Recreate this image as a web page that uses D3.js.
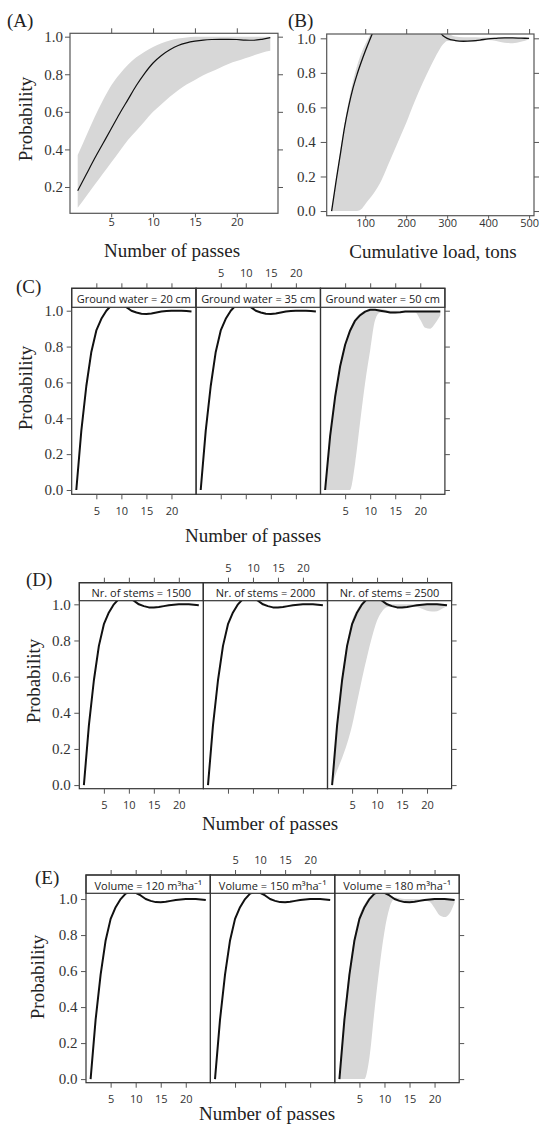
<!DOCTYPE html>
<html>
<head>
<meta charset="utf-8">
<script src="https://cdn.jsdelivr.net/npm/d3@7"></script>
<style>
body { margin: 0; background: #fff; }
</style>
</head>
<body>
<div id="chart"></div>
<script>
// ---- data ----
var passes = [1,2,3,4,5,6,7,8,9,10,11,12,13,14,15,16,17,18,19,20,21,22,23,24];

// (A) probability vs number of passes
var aFit  = [0.18,0.265,0.35,0.43,0.51,0.59,0.665,0.74,0.805,0.86,0.9,0.93,0.953,0.967,0.976,0.982,0.985,0.986,0.986,0.985,0.982,0.981,0.986,0.995];
var aLow  = [0.09,0.15,0.21,0.27,0.33,0.39,0.45,0.5,0.55,0.6,0.64,0.68,0.715,0.745,0.77,0.795,0.815,0.835,0.855,0.87,0.885,0.9,0.915,0.925];
var aHigh = [0.37,0.47,0.57,0.66,0.74,0.8,0.85,0.89,0.92,0.945,0.965,0.98,0.99,0.995,1,1,1,1,1,1,1,1,1,1];

// (B) probability vs cumulative load
var loads = [18,30,40,50,60,70,80,90,100,110,120,140,160,180,200,220,240,260,280,290,300,320,340,360,380,400,420,440,460,480,500];
var bFit  = [0,0.19,0.34,0.49,0.61,0.71,0.79,0.86,0.925,0.985,1.04,1.09,1.1,1.1,1.1,1.1,1.09,1.07,1.04,1.015,1.0,0.987,0.983,0.985,0.99,0.997,1.0,1.002,1.002,1.001,1.0];
var bLow  = [0,0,0,0,0,0,0,0.01,0.04,0.07,0.1,0.18,0.29,0.4,0.51,0.63,0.74,0.84,0.93,0.965,0.985,0.983,0.978,0.978,0.985,0.99,0.985,0.975,0.972,0.98,0.995];
var bHigh = [0.005,0.2,0.36,0.51,0.64,0.75,0.84,0.91,0.965,1.01,1.05,1.1,1.1,1.1,1.1,1.1,1.1,1.1,1.1,1.08,1.04,1.01,1.006,1.006,1.005,1.005,1.005,1.005,1.005,1.003,1.0];

// (C)-(E) conditional curves
var fitMain = [0,0.33,0.58,0.77,0.89,0.955,1.0,1.03,1.04,1.035,1.02,1.0,0.99,0.983,0.982,0.985,0.99,0.995,0.998,1.0,1.0,1.0,0.998,0.995];
var fitC3   = [0,0.3,0.52,0.69,0.81,0.89,0.945,0.975,0.995,1.005,1.005,1.0,0.995,0.99,0.99,0.992,0.995,0.995,0.995,0.995,0.995,0.995,0.995,0.995];
var lowC3   = [0,0,0,0,0,0,0.15,0.38,0.6,0.78,0.95,0.99,0.99,0.985,0.985,0.988,0.99,0.99,0.99,0.95,0.905,0.9,0.93,0.975];
var highC3  = [0.01,0.31,0.53,0.7,0.82,0.9,0.955,0.985,1.0,1.01,1.01,1.01,1.005,1,1,1,1,1,1,1,1,1,1,1];
var lowD3   = [0,0.08,0.15,0.23,0.33,0.46,0.59,0.71,0.82,0.91,0.96,0.985,0.985,0.98,0.98,0.985,0.99,0.985,0.975,0.965,0.96,0.962,0.975,0.99];
var highD3  = [0.02,0.36,0.61,0.79,0.91,0.97,1.01,1.03,1.04,1.035,1.02,1.005,1,1,1,1,1,1,1,1.005,1.005,1.005,1.002,1];
var lowE3   = [0,0,0,0,0,0,0.12,0.38,0.62,0.82,0.95,1.0,0.99,0.985,0.985,0.988,0.99,0.99,0.985,0.95,0.91,0.9,0.92,0.98];
var highE3  = [0.02,0.36,0.61,0.79,0.91,0.97,1.01,1.03,1.04,1.035,1.02,1.01,1.005,1,1,1,1,1,1,1.005,1.005,1.005,1.002,1];

var groundWater = ["Ground water = 20 cm", "Ground water = 35 cm", "Ground water = 50 cm"];
var stems = ["Nr. of stems = 1500", "Nr. of stems = 2000", "Nr. of stems = 2500"];
var volumes = ["Volume = 120 m\u00B3ha\u207B\u00B9", "Volume = 150 m\u00B3ha\u207B\u00B9", "Volume = 180 m\u00B3ha\u207B\u00B9"];

var passTicks = [5, 10, 15, 20];
var loadTicks = [100, 200, 300, 400, 500];
var probTicksA = [0.2, 0.4, 0.6, 0.8, 1.0];
var probTicks = [0, 0.2, 0.4, 0.6, 0.8, 1.0];

// ---- drawing ----
var serif = "'Liberation Serif','Times New Roman',serif";
var sans = "'Open Sans','Liberation Sans',Arial,sans-serif";

var svg = d3.select("#chart").append("svg")
    .attr("width", 550)
    .attr("height", 1133)
    .style("background", "#fff");

var clipCount = 0;
function addClip(x, y, w, h) {
  var id = "clip" + (clipCount++);
  svg.append("clipPath").attr("id", id)
     .append("rect").attr("x", x).attr("y", y).attr("width", w).attr("height", h);
  return "url(#" + id + ")";
}

function styleAxis(g, fontSize, family) {
  g.select(".domain").remove();
  g.selectAll(".tick line").attr("stroke", "#555");
  g.selectAll(".tick text")
    .attr("fill", "#333")
    .style("font-family", family)
    .style("font-size", fontSize + "px");
}

function drawCurves(x, y, xs, fit, low, high, lw, clip, lineCurve) {
  var layer = svg.append("g").attr("clip-path", clip);
  if (low) {
    var area = d3.area()
        .x(function(d, i) { return x(xs[i]); })
        .y0(function(d, i) { return y(low[i]); })
        .y1(function(d, i) { return y(high[i]); })
        .curve(d3.curveMonotoneX);
    layer.append("path").datum(low).attr("d", area).attr("fill", "#d7d7d7");
  }
  var line = d3.line()
      .x(function(d, i) { return x(xs[i]); })
      .y(function(d) { return y(d); })
      .curve(lineCurve || d3.curveMonotoneX);
  layer.append("path").datum(fit).attr("d", line)
      .attr("fill", "none").attr("stroke", "#111").attr("stroke-width", lw)
      .attr("stroke-linejoin", "round");
}

function label(txt, x, y, size, anchor, rotate) {
  var t = svg.append("text").text(txt)
      .attr("x", x).attr("y", y)
      .attr("text-anchor", anchor || "start")
      .style("font-family", serif)
      .style("font-size", size + "px")
      .attr("fill", "#222");
  if (rotate) t.attr("transform", "rotate(-90," + x + "," + y + ")");
  return t;
}

// single panel (A, B)
function singlePanel(c) {
  var x = d3.scaleLinear().domain(c.xDomain).range([c.left, c.right]);
  var y = d3.scaleLinear().domain(c.yDomain).range([c.bottom, c.top]);
  var clip = addClip(c.left, c.top, c.right - c.left, c.bottom - c.top);

  drawCurves(x, y, c.xs, c.fit, c.low, c.high, c.lw, clip);

  svg.append("rect").attr("x", c.left).attr("y", c.top)
     .attr("width", c.right - c.left).attr("height", c.bottom - c.top)
     .attr("fill", "none").attr("stroke", "#555").attr("stroke-width", 1.2);

  var gb = svg.append("g").attr("transform", "translate(0," + c.bottom + ")")
     .call(d3.axisBottom(x).tickValues(c.xTicks).tickSize(c.bTick).tickPadding(c.bPad).tickSizeOuter(0));
  styleAxis(gb, 11, sans);
  var gt = svg.append("g").attr("transform", "translate(0," + c.top + ")")
     .call(d3.axisTop(x).tickValues(c.xTicks).tickSize(5).tickFormat("").tickSizeOuter(0));
  styleAxis(gt, 11, sans);
  var gl = svg.append("g").attr("transform", "translate(" + c.left + ",0)")
     .call(d3.axisLeft(y).tickValues(c.yTicks).tickSize(c.lTick).tickPadding(c.lPad).tickFormat(d3.format(".1f")).tickSizeOuter(0));
  styleAxis(gl, 15, serif);
  var gr = svg.append("g").attr("transform", "translate(" + c.right + ",0)")
     .call(d3.axisRight(y).tickValues(c.yTicks).tickSize(5).tickFormat("").tickSizeOuter(0));
  styleAxis(gr, 11, sans);

  label(c.tag, c.tagX, c.tagY, 19);
  label(c.xTitle, c.xTitleX, c.xTitleY, 19, "middle");
  if (c.yTitle) label(c.yTitle, c.yTitleX, c.yTitleY, 19, "middle", true).attr("dominant-baseline", "central");
}

// lattice row of three conditioned panels (C, D, E)
function lattice(c) {
  var stripH = c.stripBottom - c.stripTop;
  var y = d3.scaleLinear().domain(c.yDomain).range([c.plotBottom, c.stripBottom]);

  c.panels.forEach(function(p, k) {
    var l = c.left + k * c.panelW;
    var x = d3.scaleLinear().domain([0.08, 24.92]).range([l, l + c.panelW]);
    var clip = addClip(l, c.stripBottom, c.panelW, c.plotBottom - c.stripBottom);
    drawCurves(x, y, passes, p.fit, p.low, p.high, 2, clip, d3.curveLinear);

    svg.append("rect").attr("x", l).attr("y", c.stripTop)
       .attr("width", c.panelW).attr("height", stripH)
       .attr("fill", "#fff").attr("stroke", "#333").attr("stroke-width", 1.2);
    svg.append("text").text(c.strips[k])
       .attr("x", l + c.panelW / 2).attr("y", c.stripTop + stripH / 2 + 1)
       .attr("text-anchor", "middle").attr("dominant-baseline", "central")
       .style("font-family", sans).style("font-size", "11px").attr("fill", "#222");
    svg.append("rect").attr("x", l).attr("y", c.stripTop)
       .attr("width", c.panelW).attr("height", c.plotBottom - c.stripTop)
       .attr("fill", "none").attr("stroke", "#333").attr("stroke-width", 1.2);

    var bottomAxis = d3.axisBottom(x).tickValues(passTicks).tickSize(5).tickPadding(8).tickSizeOuter(0);
    if (k === 1) bottomAxis.tickFormat("");
    var gb = svg.append("g").attr("transform", "translate(0," + c.plotBottom + ")").call(bottomAxis);
    styleAxis(gb, 11, sans);

    var topAxis = d3.axisTop(x).tickValues(passTicks).tickSize(5).tickPadding(6).tickSizeOuter(0);
    if (k !== 1) topAxis.tickFormat("");
    var gt = svg.append("g").attr("transform", "translate(0," + c.stripTop + ")").call(topAxis);
    styleAxis(gt, 11, sans);
  });

  var right = c.left + 3 * c.panelW;
  var gl = svg.append("g").attr("transform", "translate(" + c.left + ",0)")
     .call(d3.axisLeft(y).tickValues(probTicks).tickSize(5).tickPadding(3.5).tickFormat(d3.format(".1f")).tickSizeOuter(0));
  styleAxis(gl, 15, serif);
  var gr = svg.append("g").attr("transform", "translate(" + right + ",0)")
     .call(d3.axisRight(y).tickValues(probTicks).tickSize(5).tickFormat("").tickSizeOuter(0));
  styleAxis(gr, 11, sans);

  label(c.tag, c.tagX, c.tagY, 19);
  label("Number of passes", c.xTitleX, c.xTitleY, 19, "middle");
  label("Probability", c.yTitleX, c.yTitleY, 19, "middle", true).attr("dominant-baseline", "central");
}

singlePanel({
  left: 70, right: 278, top: 33.3, bottom: 213.3,
  xDomain: [0.08, 24.92], yDomain: [0.06, 1.018],
  xs: passes, fit: aFit, low: aLow, high: aHigh, lw: 1.2,
  xTicks: passTicks, yTicks: probTicksA,
  bTick: 4, bPad: 1, lTick: 5, lPad: 2,
  tag: "(A)", tagX: 7, tagY: 27,
  xTitle: "Number of passes", xTitleX: 172, xTitleY: 257,
  yTitle: "Probability", yTitleX: 25, yTitleY: 119
});

singlePanel({
  left: 326.7, right: 534, top: 34, bottom: 215.7,
  xDomain: [6, 512], yDomain: [-0.027, 1.025],
  xs: loads, fit: bFit, low: bLow, high: bHigh, lw: 1.3,
  xTicks: loadTicks, yTicks: probTicks,
  bTick: 3, bPad: 0.5, lTick: 6, lPad: 5,
  tag: "(B)", tagX: 288, tagY: 27,
  xTitle: "Cumulative load, tons", xTitleX: 433, xTitleY: 258
});

lattice({
  left: 71.7, panelW: 124.4, stripTop: 288.3, stripBottom: 307.3, plotBottom: 494.3,
  yDomain: [-0.024, 1.019], strips: groundWater,
  panels: [{ fit: fitMain }, { fit: fitMain }, { fit: fitC3, low: lowC3, high: highC3 }],
  tag: "(C)", tagX: 16, tagY: 293,
  xTitleX: 253, xTitleY: 542, yTitleX: 25, yTitleY: 388
});

lattice({
  left: 79.3, panelW: 124.1, stripTop: 582.7, stripBottom: 600.7, plotBottom: 788.7,
  yDomain: [-0.02, 1.02], strips: stems,
  panels: [{ fit: fitMain }, { fit: fitMain }, { fit: fitMain, low: lowD3, high: highD3 }],
  tag: "(D)", tagX: 26, tagY: 586,
  xTitleX: 270, xTitleY: 830, yTitleX: 33, yTitleY: 681
});

lattice({
  left: 86, panelW: 124.4, stripTop: 875, stripBottom: 893.3, plotBottom: 1082.7,
  yDomain: [-0.02, 1.032], strips: volumes,
  panels: [{ fit: fitMain }, { fit: fitMain }, { fit: fitMain, low: lowE3, high: highE3 }],
  tag: "(E)", tagX: 35, tagY: 884,
  xTitleX: 267, xTitleY: 1120, yTitleX: 37, yTitleY: 977
});
</script>
</body>
</html>
